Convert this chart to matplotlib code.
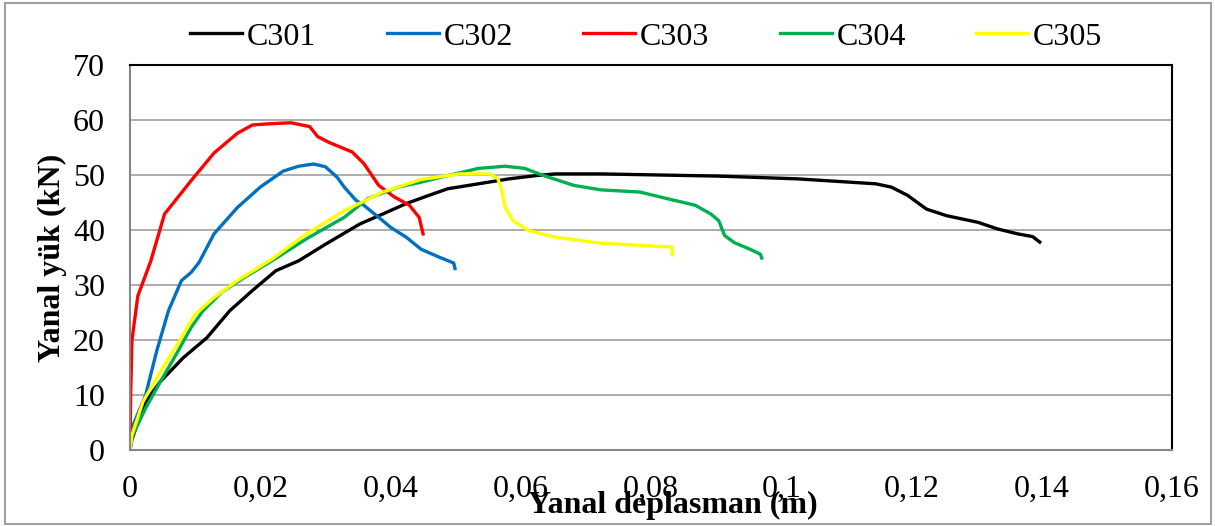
"""plot.py: lateral load vs lateral displacement curves for C301-C305."""

import matplotlib
matplotlib.use('Agg')
import matplotlib.pyplot as plt
from matplotlib.patches import Rectangle
from matplotlib.ticker import FuncFormatter, MultipleLocator

# lateral displacement (m) / lateral load (kN)
c301_x = [0, 0.0003, 0.0024, 0.0047, 0.0082, 0.0118, 0.0153, 0.0188, 0.0224, 0.0259, 0.030,
          0.0353, 0.0388, 0.0424, 0.0459, 0.0488, 0.0535, 0.0582, 0.0624, 0.0653, 0.0723,
          0.0904, 0.1025, 0.1145, 0.1169, 0.1194, 0.1223, 0.1254, 0.1302, 0.1332, 0.1363,
          0.1386, 0.1397]
c301_y = [0, 2.0, 8.8, 12.5, 16.8, 20.4, 25.3, 29.0, 32.6, 34.4, 37.4,
          41.1, 42.9, 44.8, 46.3, 47.5, 48.4, 49.3, 49.9, 50.2, 50.2,
          49.8, 49.3, 48.4, 47.8, 46.3, 43.8, 42.6, 41.4, 40.2, 39.3,
          38.8, 37.8]

c302_x = [0, 0.0003, 0.0024, 0.0041, 0.0059, 0.0079, 0.0094, 0.0106, 0.0129, 0.0165, 0.020,
          0.0235, 0.0259, 0.0282, 0.030, 0.0318, 0.0329, 0.0347, 0.0359, 0.0388, 0.040,
          0.0424, 0.0447, 0.0476, 0.0497, 0.0499]
c302_y = [0, 4.0, 10.0, 18.0, 25.3, 30.8, 32.3, 34.1, 39.3, 44.1, 47.8,
          50.7, 51.6, 52.0, 51.5, 49.6, 47.8, 45.4, 44.5, 41.7, 40.5,
          38.7, 36.5, 35.0, 34.0, 33.0]

c303_x = [0, 0.0001, 0.0003, 0.0012, 0.0032, 0.0053, 0.0094, 0.0129, 0.0165, 0.0188, 0.0212,
          0.0247, 0.0276, 0.0288, 0.0306, 0.0341, 0.0359, 0.0382, 0.0406, 0.0429, 0.0444,
          0.0450]
c303_y = [0, 10.0, 20.0, 28.0, 34.4, 42.9, 49.0, 54.0, 57.6, 59.1, 59.3,
          59.5, 58.8, 57.0, 55.9, 54.2, 52.1, 48.1, 46.0, 44.5, 42.3,
          39.3]

c304_x = [0, 0.0003, 0.0024, 0.0047, 0.0071, 0.0094, 0.0112, 0.0141, 0.0176, 0.0218, 0.0271,
          0.0329, 0.0365, 0.0412, 0.0447, 0.0488, 0.0535, 0.0576, 0.0606, 0.0635, 0.0682,
          0.0723, 0.0783, 0.0832, 0.0868, 0.0892, 0.0904, 0.0913, 0.0928, 0.0952, 0.0968,
          0.0970]
c304_y = [0, 2.4, 7.6, 12.5, 17.4, 22.3, 25.3, 28.7, 31.4, 34.4, 38.4,
          42.3, 45.7, 47.8, 48.7, 49.9, 51.2, 51.6, 51.2, 49.9, 48.1,
          47.3, 46.9, 45.5, 44.5, 42.9, 41.7, 39.0, 37.7, 36.5, 35.6,
          34.9]

c305_x = [0, 0.0003, 0.0020, 0.0047, 0.0076, 0.0100, 0.0129, 0.0165, 0.0218, 0.0271, 0.0329,
          0.0388, 0.0447, 0.0506, 0.0553, 0.0565, 0.0571, 0.0576, 0.0588, 0.0612, 0.0653,
          0.0723, 0.0832, 0.0833]
c305_y = [0, 2.7, 8.8, 14.3, 19.8, 24.7, 27.7, 30.8, 34.7, 39.3, 43.5,
          46.9, 49.2, 50.2, 50.2, 49.3, 47.2, 44.1, 41.7, 39.9, 38.7,
          37.6, 36.9, 35.5]

names = ['C301', 'C302', 'C303', 'C304', 'C305']
colors = ['#000000', '#0070C0', '#FF0000', '#00B050', '#FFFF00']
series = [(c301_x, c301_y), (c302_x, c302_y), (c303_x, c303_y), (c304_x, c304_y), (c305_x, c305_y)]

plt.rcParams['font.family'] = ['Liberation Serif', 'DejaVu Serif']
fs = 23

fig = plt.figure(figsize=(12.15, 5.26), dpi=100)
ax = fig.add_axes([0.107, 0.1445, 0.8576, 0.7319])

for (x, y), name, color in zip(series, names, colors):
    ax.plot(x, y, color=color, lw=2.4, label=name, solid_joinstyle='round')

ax.set_xlim(0, 0.16)
ax.set_ylim(0, 70)
ax.xaxis.set_major_locator(MultipleLocator(0.02))
ax.yaxis.set_major_locator(MultipleLocator(10))
ax.xaxis.set_major_formatter(FuncFormatter(lambda v, p: ('%g' % round(v, 4)).replace('.', ',')))
ax.grid(axis='y', color='#A6A6A6', lw=1.3)
ax.set_axisbelow(True)
ax.tick_params(length=0, labelsize=fs)
ax.tick_params(axis='x', pad=18)
ax.tick_params(axis='y', pad=18)

for side in ['top', 'right']:
    ax.spines[side].set_color('black')
    ax.spines[side].set_linewidth(1.5)
for side in ['left', 'bottom']:
    ax.spines[side].set_color('#868686')
    ax.spines[side].set_linewidth(1.5)

ax.set_ylabel('Yanal yük (kN)', fontsize=fs, fontweight='bold', labelpad=4)
fig.text(0.554, 0.04, 'Yanal deplasman (m)', fontsize=fs, fontweight='bold', ha='center', va='center')

fig.legend(loc='center', bbox_to_anchor=(0.532, 0.93), ncol=5, frameon=False, fontsize=fs,
           handlelength=1.63, handletextpad=0.15, columnspacing=2.2)

fig.patches.append(Rectangle((0.004, 0.003), 0.993, 0.992, transform=fig.transFigure,
                             fill=False, edgecolor='#A0A0A0', lw=1.5))

plt.savefig('out.png', dpi=100)
